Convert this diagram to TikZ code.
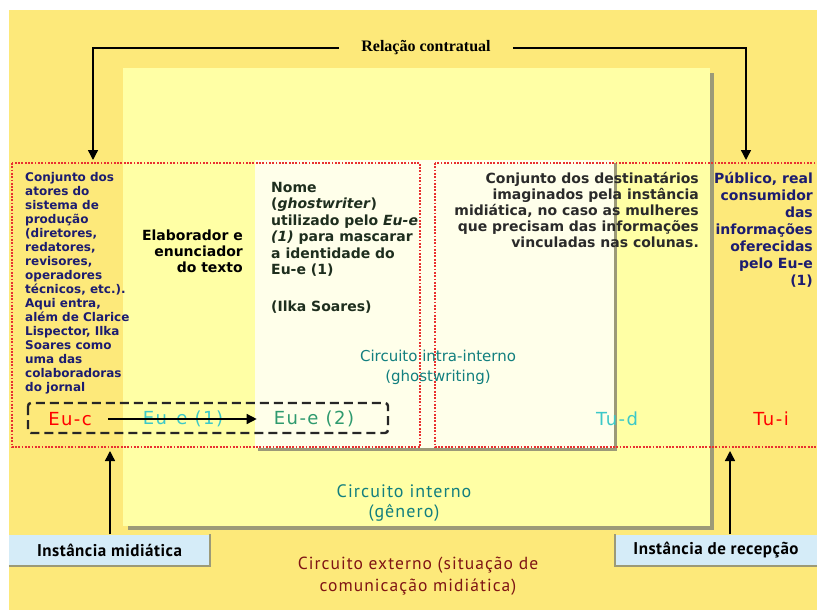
\documentclass[tikz,border=0pt]{standalone}
\usepackage{fontspec}
\setmainfont{DejaVu Sans}
\newfontfamily\ptsans[LetterSpace=6]{PT Sans}
\newfontfamily\ptsansb[LetterSpace=3]{PT Sans Bold}
\newfontfamily\eufont[LetterSpace=8]{DejaVu Sans}
\newfontfamily\libserif{Liberation Serif}
\usetikzlibrary{arrows.meta}
\definecolor{outerY}{HTML}{FDE97A}
\definecolor{innerY}{HTML}{FFFFA5}
\definecolor{paleY}{HTML}{FFFFEA}
\definecolor{shadowG}{HTML}{9C9A78}
\definecolor{navy}{HTML}{1C1C70}
\definecolor{tealC}{HTML}{127F7F}
\definecolor{darkred}{HTML}{7F1414}
\definecolor{eucyan}{HTML}{3CC8C8}
\definecolor{eugreen}{HTML}{2E9A6E}
\definecolor{boxblue}{HTML}{D5ECF8}
\definecolor{redDot}{HTML}{E83030}
\definecolor{dgreen}{HTML}{1E2E1E}
\definecolor{dgrey}{HTML}{2A2A2A}
\begin{document}
\begin{tikzpicture}[x=1pt,y=-1pt,
  reddot/.style={draw=redDot,line width=1.8pt,dash pattern=on 1.8pt off 1.5pt},
  dashbox/.style={draw=black!85,line width=2.4pt,dash pattern=on 9pt off 5pt,rounded corners=3pt},
  conn/.style={draw=black,line width=1.4pt,-{Triangle[length=10pt,width=10pt]}},
  txt/.style={inner sep=0pt,font=\fontsize{14}{16.5}\selectfont\bfseries},
  eulbl/.style={inner sep=0pt,font=\eufont\fontsize{18}{20}\selectfont},
  instbox/.style={fill=boxblue,minimum height=31pt,inner sep=0pt,font=\ptsansb\fontsize{17}{19}\selectfont},
  circ/.style={inner sep=0pt,align=center}]
\useasboundingbox (0,0) rectangle (817,610);
\fill[white] (0,0) rectangle (817,610);
\fill[outerY] (9,10) rectangle (817,610);
% inner circuit box
\fill[shadowG] (128,73) rectangle (714,530);
\fill[innerY] (123,68) rectangle (710,526);
% ghostwriting area
\fill[shadowG] (258,163) rectangle (617,451);
\fill[paleY] (255,160) rectangle (614,448);
% red dotted boxes
\draw[reddot] (12,163) rectangle (420,447);
\draw[reddot] (435,163) rectangle (818,447);
% texts
\node[txt,text=navy,anchor=north west,align=left,font=\fontsize{12}{14}\selectfont\bfseries] (actors) at (25,172)
 {Conjunto dos\\atores do\\sistema de\\produção\\(diretores,\\redatores,\\revisores,\\operadores\\técnicos, etc.).\\Aqui entra,\\além de Clarice\\Lispector, Ilka\\Soares como\\uma das\\colaboradoras\\do jornal};
\node[txt,text=black,anchor=north east,align=right,font=\fontsize{14}{16}\selectfont\bfseries] (elab) at (243,230)
 {Elaborador e\\enunciador\\do texto};
\node[txt,text=dgreen,anchor=north west,align=left] (nome) at (271,182)
 {Nome\\(\textit{ghostwriter})\\utilizado pelo \textit{Eu-e}\\\textit{(1)} para mascarar\\a identidade do\\Eu-e (1)\\[20pt](Ilka Soares)};
\node[txt,text=dgrey,anchor=north east,align=right,font=\fontsize{14}{16}\selectfont\bfseries] (dest) at (699,172)
 {Conjunto dos destinatários\\imaginados pela instância\\midiática, no caso as mulheres\\que precisam das informações\\vinculadas nas colunas.};
\node[txt,text=navy,anchor=north east,align=right,font=\fontsize{14}{17}\selectfont\bfseries] (pub) at (813,172)
 {Público, real\\consumidor\\das\\informações\\oferecidas\\pelo Eu-e\\(1)};
\node[circ,text=tealC,font=\fontsize{15}{20}\selectfont] (intra) at (438,367) {Circuito intra-interno\\(ghostwriting)};
\node[circ,text=tealC,font=\ptsans\fontsize{18}{20}\selectfont] (interno) at (404,503) {Circuito interno\\(gênero)};
\node[circ,text=darkred,font=\ptsans\fontsize{17.5}{22}\selectfont] (externo) at (418,576) {Circuito externo (situação de\\comunicação midiática)};
% Eu / Tu labels
\draw[dashbox] (28,403) rectangle (388,433);
\node[eulbl,text=red] (euc) at (70,419) {Eu-c};
\node[eulbl,text=eucyan] (eue1) at (183,419) {Eu-e (1)};
\node[eulbl,text=eugreen] (eue2) at (314,419) {Eu-e (2)};
\node[eulbl,text=eucyan] (tud) at (617,419) {Tu-d};
\node[eulbl,text=red] (tui) at (771,419) {Tu-i};
\draw[conn] ([xshift=16pt]euc.east) -- ([xshift=-17pt]eue2.west);
% relação contratual
\node[inner xsep=22pt,font=\libserif\fontsize{16}{18}\selectfont\bfseries] (rc) at (426,48) {Relação contratual};
\coordinate (ltip) at (93,160);
\coordinate (rtip) at (746,160);
\draw[conn] (rc.west) -| (ltip);
\draw[conn] (rc.east) -| (rtip);
% instance boxes
\node[instbox,minimum width=201pt] (im) at (109.5,550) {Instância midiática};
\node[instbox,minimum width=202pt] (ir) at (716,550) {Instância de recepção};
\draw[shadowG,line width=2pt] (im.south west) -- (im.south east) -- (im.north east);
\draw[shadowG,line width=2pt] (ir.north west) -- (ir.south west) -- (ir.south east);
\coordinate (imtip) at (110,451);
\coordinate (irtip) at (730,451);
\draw[conn] (im.north -| imtip) -- (imtip);
\draw[conn] (ir.north -| irtip) -- (irtip);
\end{tikzpicture}
\end{document}
